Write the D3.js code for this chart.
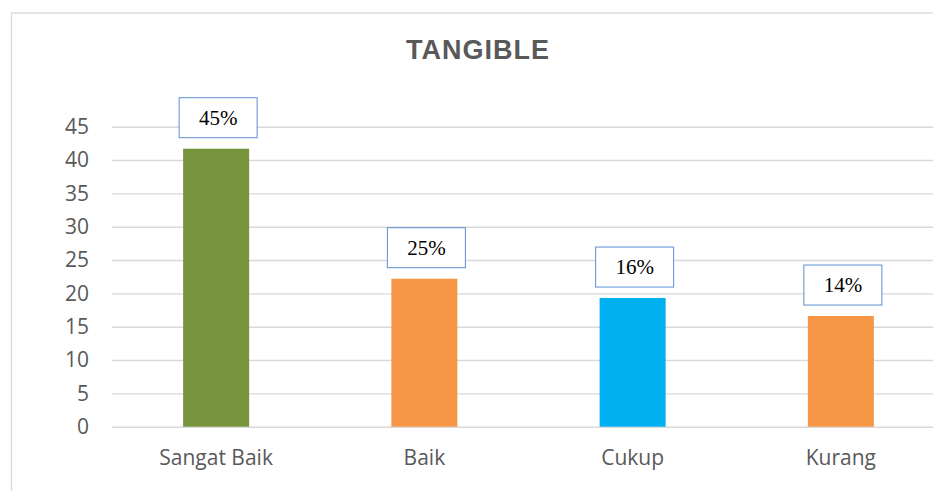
<!DOCTYPE html>
<html>
<head>
<meta charset="utf-8">
<script src="https://cdn.jsdelivr.net/npm/d3@7"></script>
<style>
  body { margin: 0; background: #fff; }
</style>
</head>
<body>
<div id="chart"></div>
<script>
// data
var categories = ["Sangat Baik", "Baik", "Cukup", "Kurang"];
var values = [41.7, 22.2, 19.3, 16.6];
var labels = ["45%", "25%", "16%", "14%"];
var colors = ["#77933c", "#f79646", "#00b0f0", "#f79646"];
var yTicks = [0, 5, 10, 15, 20, 25, 30, 35, 40, 45];

var W = 933, H = 491;
var margin = {top: 126.7, left: 112, bottom: H - 426.7};
var plotW = 833, plotH = H - margin.top - margin.bottom;

var svg = d3.select("#chart").append("svg")
    .attr("width", W)
    .attr("height", H);

// chart area border
svg.append("rect")
    .attr("x", 11.5).attr("y", 13)
    .attr("width", 1000).attr("height", 600)
    .attr("fill", "none")
    .attr("stroke", "#d9d9d9")
    .attr("stroke-width", 1.3);

// title
svg.append("text")
    .attr("x", 478).attr("y", 59)
    .attr("text-anchor", "middle")
    .style("font-family", "'Liberation Sans', Arial, sans-serif")
    .style("font-weight", "bold")
    .style("font-size", "27px")
    .style("letter-spacing", "1px")
    .attr("fill", "#595959")
    .text("TANGIBLE");

var g = svg.append("g")
    .attr("transform", "translate(" + margin.left + "," + margin.top + ")");

var x = d3.scaleBand()
    .domain(categories)
    .range([0, plotW])
    .paddingInner(0.683)
    .paddingOuter(0.683 / 2);

var y = d3.scaleLinear()
    .domain([0, 45])
    .range([plotH, 0]);

// gridlines + y labels
var yAxis = g.append("g")
    .call(d3.axisLeft(y).tickValues(yTicks).tickSize(-plotW - 20).tickPadding(23));
yAxis.select(".domain").remove();
yAxis.selectAll(".tick line")
    .attr("stroke", "#d9d9d9")
    .attr("stroke-width", 1.4);
yAxis.selectAll(".tick text")
    .style("font-family", "'Open Sans', sans-serif")
    .style("font-size", "21px")
    .attr("fill", "#595959");

// x labels
var xAxis = g.append("g")
    .attr("transform", "translate(0," + plotH + ")")
    .call(d3.axisBottom(x).tickSize(0).tickPadding(23));
xAxis.select(".domain").remove();
xAxis.selectAll(".tick text")
    .style("font-family", "'Open Sans', sans-serif")
    .style("font-size", "21px")
    .attr("fill", "#595959");

// bars
g.selectAll(".bar")
    .data(values)
    .enter().append("rect")
    .attr("class", "bar")
    .attr("x", function(d, i) { return x(categories[i]); })
    .attr("y", function(d) { return y(d); })
    .attr("width", x.bandwidth())
    .attr("height", function(d) { return plotH - y(d); })
    .attr("fill", function(d, i) { return colors[i]; });

// data label boxes
var boxW = 78, boxH = 40;
var lab = g.selectAll(".lab")
    .data(values)
    .enter().append("g")
    .attr("class", "lab")
    .attr("transform", function(d, i) {
      var cx = x(categories[i]) + x.bandwidth() / 2 + 2;
      return "translate(" + cx + "," + (y(d) - 11 - boxH / 2) + ")";
    });
lab.append("rect")
    .attr("x", -boxW / 2).attr("y", -boxH / 2)
    .attr("width", boxW).attr("height", boxH)
    .attr("fill", "#fff")
    .attr("stroke", "#5b8fd0")
    .attr("stroke-width", 1);
lab.append("text")
    .attr("text-anchor", "middle")
    .attr("dy", "0.33em")
    .style("font-family", "'Liberation Serif', 'Times New Roman', serif")
    .style("font-size", "21px")
    .attr("fill", "#000")
    .text(function(d, i) { return labels[i]; });
</script>
</body>
</html>
